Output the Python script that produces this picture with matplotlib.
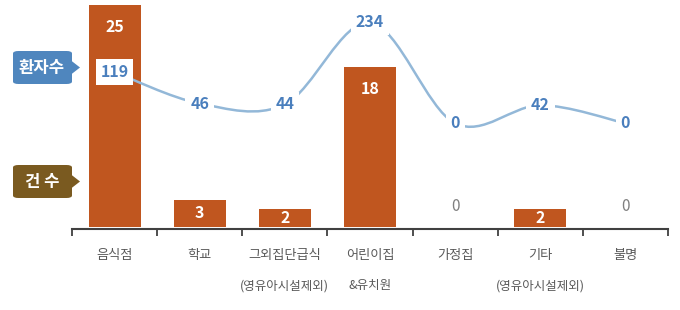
import numpy as np
import matplotlib.pyplot as plt
from matplotlib.path import Path
from matplotlib.patches import PathPatch, FancyBboxPatch, Polygon

plt.rcParams['font.family'] = ['Noto Sans CJK KR', 'DejaVu Sans']

# 데이터
categories = ['음식점', '학교', '그외집단급식', '어린이집', '가정집', '기타', '불명']
sublabels = ['', '', '(영유아시설제외)', '&유치원', '', '(영유아시설제외)', '']
cases = [25, 3, 2, 18, 0, 2, 0]          # 건수 (막대)
patients = [119, 46, 44, 234, 0, 42, 0]  # 환자수 (선)

bar_color = '#c0561f'
line_color = '#93b8d8'
label_blue = '#4a7fbd'
text_gray = '#595959'

W, H = 680, 310
fig = plt.figure(figsize=(6.8, 3.1), dpi=100)
ax = fig.add_axes([72 / W, 81 / H, 596 / W, 229 / H])
ax2 = ax.twinx()
ax2.set_zorder(ax.get_zorder() + 1)
ax2.patch.set_visible(False)

x = np.arange(len(categories))

# 막대
ax.bar(x, cases, width=0.61, color=bar_color, zorder=2)
ax.set_xlim(-0.5, len(categories) - 0.5)
ax.set_ylim(-0.25, 25.55)
off = 2.45
for xi, v in zip(x, cases):
    if v == 0:
        ax.text(xi, 2.3, '0', ha='center', va='center', fontsize=11,
                color='#808080', zorder=3)
    else:
        yy = v - min(off, v / 2)
        ax.text(xi, yy, str(v), ha='center', va='center', fontsize=11.5,
                fontweight='bold', color='white', zorder=3)

# 부드러운 선 (베지어)
ax2.set_ylim(-245, 286)
py = np.array(patients, dtype=float)
pts = np.column_stack([x, py])
verts = [tuple(pts[0])]
codes = [Path.MOVETO]
n = len(pts)
for i in range(n - 1):
    p0 = pts[i - 1] if i > 0 else pts[i]
    p1 = pts[i]
    p2 = pts[i + 1]
    p3 = pts[i + 2] if i + 2 < n else pts[i + 1]
    c1 = p1 + (p2 - p0) / 6
    c2 = p2 - (p3 - p1) / 6
    verts += [tuple(c1), tuple(c2), tuple(p2)]
    codes += [Path.CURVE4] * 3
ax2.add_patch(PathPatch(Path(verts, codes), facecolor='none',
                        edgecolor=line_color, lw=1.8, zorder=2))
for xi, v in zip(x, patients):
    ax2.text(xi, v, str(v), ha='center', va='center', fontsize=11.5,
             fontweight='bold', color=label_blue, zorder=4,
             bbox=dict(boxstyle='square,pad=0.3', fc='white', ec='none'))

# 축
for a in (ax, ax2):
    for s in ['top', 'right', 'left']:
        a.spines[s].set_visible(False)
    a.set_yticks([])
ax2.spines['bottom'].set_visible(False)
ax.spines['bottom'].set_position(('data', -0.25))
ax.spines['bottom'].set_color('#404040')
ax.spines['bottom'].set_linewidth(1.5)
ax.set_xticks(np.arange(-0.5, len(categories), 1.0))
ax.set_xticklabels([])
ax.tick_params(axis='x', direction='out', length=5, width=1.3, color='#404040')

for xi, c, s in zip(x, categories, sublabels):
    ax.annotate(c, (xi, 0), xytext=(0, -29), textcoords='offset pixels',
                ha='center', va='center', fontsize=9.5, color=text_gray,
                annotation_clip=False)
    if s:
        ax.annotate(s, (xi, 0), xytext=(0, -59), textcoords='offset pixels',
                    ha='center', va='center', fontsize=9, color=text_gray,
                    annotation_clip=False)

# 범례 말풍선
def callout(y_top, text, color):
    y0 = (H - y_top - 34) / H
    box = FancyBboxPatch((13 / W, y0), 59 / W, 33 / H,
                         boxstyle='round,pad=0,rounding_size=0.008',
                         transform=fig.transFigure, fc=color, ec='none')
    fig.add_artist(box)
    ym = y0 + 16.5 / H
    tri = Polygon([(71 / W, ym + 7 / H), (80 / W, ym), (71 / W, ym - 7 / H)],
                  closed=True, transform=fig.transFigure, fc=color, ec='none')
    fig.add_artist(tri)
    fig.text(42 / W, ym, text, ha='center', va='center', fontsize=12,
             fontweight='bold', color='white')

callout(50, '환자수', '#4f86be')
callout(164, '건 수', '#7a5a20')

fig.savefig('out.png', dpi=100)
